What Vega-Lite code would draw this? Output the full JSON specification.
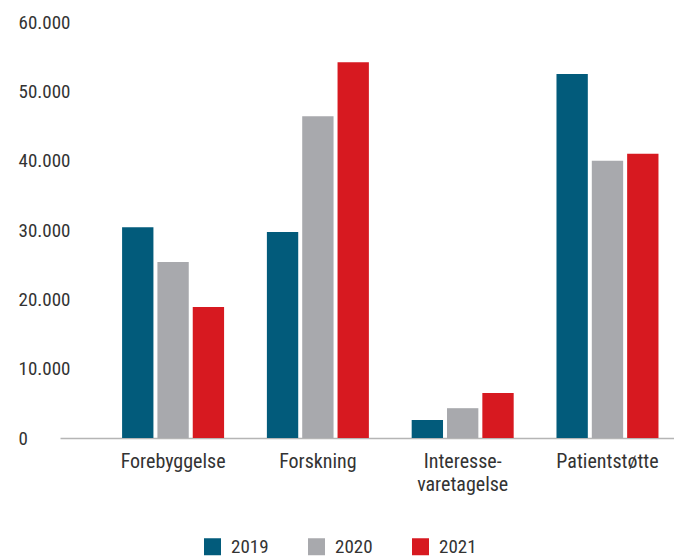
{
  "$schema": "https://vega.github.io/schema/vega-lite/v6.json",
  "width": 614,
  "height": 416,
  "autosize": "none",
  "padding": {"left": 60, "top": 22, "right": 0, "bottom": 122},
  "background": "white",
  "config": {
    "view": {"stroke": null},
    "font": "Roboto Condensed, Liberation Sans Narrow, Roboto"
  },
  "data": {
    "values": [
      {"kategori": "Forebyggelse", "år": "2019", "værdi": 30400},
      {"kategori": "Forebyggelse", "år": "2020", "værdi": 25400},
      {"kategori": "Forebyggelse", "år": "2021", "værdi": 18900},
      {"kategori": "Forskning", "år": "2019", "værdi": 29700},
      {"kategori": "Forskning", "år": "2020", "værdi": 46400},
      {"kategori": "Forskning", "år": "2021", "værdi": 54200},
      {"kategori": "Interesse-varetagelse", "år": "2019", "værdi": 2600},
      {"kategori": "Interesse-varetagelse", "år": "2020", "værdi": 4300},
      {"kategori": "Interesse-varetagelse", "år": "2021", "værdi": 6500},
      {"kategori": "Patientstøtte", "år": "2019", "værdi": 52500},
      {"kategori": "Patientstøtte", "år": "2020", "værdi": 40000},
      {"kategori": "Patientstøtte", "år": "2021", "værdi": 41000}
    ]
  },
  "mark": {"type": "bar"},
  "encoding": {
    "x": {
      "field": "kategori",
      "type": "nominal",
      "sort": null,
      "scale": {"paddingInner": 0.2956, "paddingOuter": 0.268, "align": 0.8},
      "axis": {
        "title": null,
        "ticks": false,
        "domainColor": "#b5b5b5",
        "domainWidth": 1.5,
        "labelAngle": 0,
        "labelFontSize": 20,
        "labelColor": "#333333",
        "labelPadding": 13,
        "labelBaseline": "top",
        "labelLineHeight": 23,
        "labelExpr": "datum.value == 'Interesse-varetagelse' ? ['Interesse-', 'varetagelse'] : datum.value"
      }
    },
    "xOffset": {
      "field": "år",
      "type": "nominal",
      "scale": {"paddingInner": 0.113, "paddingOuter": 0}
    },
    "y": {
      "field": "værdi",
      "type": "quantitative",
      "scale": {"domain": [0, 60000], "nice": false},
      "axis": {
        "title": null,
        "values": [0, 10000, 20000, 30000, 40000, 50000, 60000],
        "labelExpr": "replace(format(datum.value, ',d'), ',', '.')",
        "grid": false,
        "domain": false,
        "ticks": false,
        "labelAlign": "left",
        "labelPadding": 42,
        "labelFontSize": 19,
        "labelColor": "#333333",
        "labelBaseline": "middle"
      }
    },
    "color": {
      "field": "år",
      "type": "nominal",
      "scale": {"domain": ["2019", "2020", "2021"], "range": ["#025b7b", "#a8a9ad", "#d71920"]},
      "legend": {
        "title": null,
        "orient": "none",
        "direction": "horizontal",
        "legendX": 143,
        "legendY": 515,
        "symbolType": "square",
        "symbolSize": 289,
        "symbolStrokeWidth": 0,
        "labelFontSize": 19,
        "labelColor": "#333333",
        "labelOffset": 9,
        "columnPadding": 38
      }
    }
  }
}
